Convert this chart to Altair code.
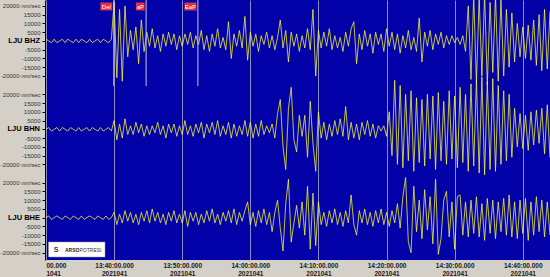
import altair as alt
import pandas as pd

# ---------------- data (amplitudes in thousands of nm/sec, one sample every 0.4 min from 13:30) ----
step_min = 0.4
bhz = [1,0,-1,1,-1,0,1,-1,1,0,-1,1,-1,1,0,-1,1,-1,0,1,-1,1,0,-1,1,
       22,-21,18,-23,20,
       -9,6,-5,8,-13,12,-6,
       5,-3,7,-4,3,-6,4,-3,5,-2,4,-5,3,
       -3,4,-2,5,-4,3,-2,6,
       -5,3,-6,4,-3,7,-4,2,-5,11,-10,4,-3,6,-4,14,-11,
       5,-3,4,-6,3,-2,5,-4,3,-5,2,12,-4,6,-12,5,-3,
       4,-6,3,-4,7,-5,18,-20,
       6,-4,5,-3,7,-5,3,-4,2,-6,5,-3,7,11,-13,4,-5,6,-3,4,-7,5,-2,4,-6,7,-3,5,
       -5,4,-7,3,-4,6,-5,2,-6,13,-12,5,-3,6,-5,4,-2,5,-4,3,-2,3,-1,2,-2,3,
       -6,20,-22,26,-24,25,-20,27,-25,22,-18,26,-23,24,
       -20,18,-15,16,-12,10,-9,8,-10,
       9,-11,12,-14,15,-17,18,-16,17]
bhn = [0,1,-1,0,1,-1,1,0,-1,1,0,-1,1,-1,0,1,-1,1,0,-1,1,-1,0,1,-1,
       5,-6,3,-5,6,
       -3,2,-3,4,-2,3,-4,2,-3,2,-2,4,-3,2,-5,3,-2,3,-4,2,-3,5,-3,2,-4,3,-2,4,-5,3,-2,4,-3,5,-4,2,-3,4,-5,3,-4,2,-3,5,-4,
       4,-5,3,-4,5,-3,2,-2,
       3,-5,9,17,-10,-23,12,24,-6,-13,8,-4,8,-16,16,-8,-24,
       10,-5,4,-6,3,-4,5,-3,6,-4,13,-6,4,-5,3,-6,4,-3,5,-4,3,-5,2,-1,2,
       -4,10,-15,28,-20,25,-22,20,-18,22,-24,18,
       -19,17,-21,20,-17,19,-23,21,-18,16,-20,22,-17,19,
       -22,24,-19,20,-24,26,-21,28,-25,30,-26,27,-23,29,-24,25,-20,22,-18,20,-16,
       12,-10,9,-11,8,-12,10,-9,11,-8,12,-14,14,-16]
bhe = [0,1,-1,0,1,0,-1,1,0,-1,1,0,-1,1,-1,0,1,0,-1,1,0,-1,1,-1,0,
       3,-4,2,-3,4,-2,3,-3,2,-4,3,-2,4,-3,5,-2,3,-3,2,-4,3,-2,4,-3,2,-3,4,-5,3,-2,3,-4,2,-3,4,-2,5,-3,2,-4,3,-2,4,-3,5,-4,3,-2,4,9,
       -4,3,-5,4,-3,5,-4,3,-8,3,10,
       -6,-19,8,22,-14,-3,7,-6,9,-10,18,-18,14,-16,9,
       -4,3,-5,4,-3,5,-4,3,-5,4,-3,13,-4,-10,4,-3,5,-4,3,-5,4,-3,5,-4,3,-5,4,-3,
       8,-6,12,23,-14,-20,18,-8,10,-12,16,-7,12,-15,22,-21,
       -12,10,15,-11,9,-18,12,13,-10,9,-11,
       10,-9,12,-11,8,-13,11,-9,10,-12,9,-8,11,-10,13,-11,9,-12,10,-9,11,-13,9,-10,12,-8,10,-11,9,-10]

channels = ["LJU BHZ", "LJU BHN", "LJU BHE"]
series = [bhz, bhn, bhe]
offsets = [0, -50.5, -101]           # vertical stacking of the three traces

tick_minutes = [0, 10, 20, 30, 40, 50, 60, 70]
tick_time = ["00.000", "13:40:00.000", "13:50:00.000", "14:00:00.000",
             "14:10:00.000", "14:20:00.000", "14:30:00.000", "14:40:00.000"]
tick_date = ["1041", "2021041", "2021041", "2021041",
             "2021041", "2021041", "2021041", "2021041"]

pick_labels = ["Del", "aP", "EaP"]
pick_minutes = [9.95, 14.7, 22.3]

y_levels = [20, 15, 10, 5, 0, -5, -10, -15, -20]

# ---------------- tables ----------------
rows = []
for name, vals, off in zip(channels, series, offsets):
    for i, v in enumerate(vals):
        rows.append({"ch": name, "t": i * step_min, "y": v + off})
wave = pd.DataFrame(rows)
stations = pd.DataFrame({"ch": channels, "y": offsets})
picks = pd.DataFrame({"label": pick_labels, "t": pick_minutes})

X_MAX = 74.0
Y_DOM = [-125.2, 23.4]
PX_PER_MIN = 504 / X_MAX

x_expr = "datum.value == 0 ? " + repr([tick_time[0], tick_date[0]])
for m, a, b in zip(tick_minutes[1:], tick_time[1:], tick_date[1:]):
    x_expr += f" : datum.value == {m} ? {[a, b]!r}"
x_expr += " : ''"

loc = "round(datum.value - (datum.value > -25.5 ? 0 : (datum.value > -76 ? -50.5 : -101)))"
y_expr = (f"{loc} == 0 ? '' : (abs({loc}) == 20 ? ({loc} * 1000) + ' nm/sec' : '' + ({loc} * 1000))")
y_values = [off + k for off in offsets for k in y_levels]

xscale = alt.Scale(domain=[0, X_MAX], nice=False, zero=False)
yscale = alt.Scale(domain=Y_DOM, nice=False, zero=False)

x_axis = alt.Axis(values=tick_minutes, labelExpr=x_expr, title=None, ticks=False,
                  domain=False, grid=True, gridColor="#8c8cc4", gridWidth=1,
                  labelFontSize=6.5, labelFontWeight="bold", labelColor="#1a1a1a",
                  labelLineHeight=8, labelPadding=2, labelFlush=False, labelOverlap=False,
                  labelAlign=alt.condition("datum.value == 0", alt.value("left"), alt.value("center")))
y_axis = alt.Axis(values=y_values, labelExpr=y_expr, title=None, grid=False,
                  tickSize=3, tickColor="#000000", domainColor="#000000",
                  labelOverlap=False, labelFlush=False, labelBound=False,
                  labelFontSize=6, labelColor="#333333", labelPadding=2, offset=1)

base = alt.Chart(wave)
lines = base.mark_line(color="#ffff30", strokeWidth=0.75, clip=True).encode(
    x=alt.X("t:Q", scale=xscale, axis=x_axis),
    y=alt.Y("y:Q", scale=yscale, axis=y_axis),
    detail="ch:N",
)

station_text = alt.Chart(stations).mark_text(
    align="right", baseline="middle", fontSize=7.5, fontWeight="bold", color="#000000"
).encode(y=alt.Y("y:Q", scale=yscale, axis=y_axis), x=alt.value(-6), text="ch:N")

pick_rules = alt.Chart(picks).mark_rule(color="#c4c4e0", strokeWidth=1).encode(
    x=alt.X("t:Q", scale=xscale, axis=x_axis), y=alt.value(0), y2=alt.value(86))

pick_box = alt.Chart(picks).transform_calculate(
    x0=f"datum.t - (length(datum.label) * 3.3 + 2 + 1.5) / {PX_PER_MIN}",
    x1=f"datum.t - 1.5 / {PX_PER_MIN}",
    xm=f"datum.t - (length(datum.label) * 3.3 / 2 + 1 + 1.5) / {PX_PER_MIN}",
)
pick_rect = pick_box.mark_rect(color="#e3303c").encode(
    x=alt.X("x0:Q", scale=xscale, axis=x_axis), x2="x1:Q", y=alt.value(2.5), y2=alt.value(10.5))
pick_txt = pick_box.mark_text(color="#ffffff", fontSize=6, baseline="middle").encode(
    x=alt.X("xm:Q", scale=xscale, axis=x_axis), y=alt.value(6.8), text="label:N")

one = pd.DataFrame({"a": [0]})
logo_box = alt.Chart(one).mark_rect(color="#ffffff", stroke="#9a9a9a", strokeWidth=0.5).encode(
    x=alt.value(2.5), x2=alt.value(59), y=alt.value(242), y2=alt.value(257))
logo_s = alt.Chart(one).mark_text(fontSize=7, fontWeight="bold", color="#333333", baseline="middle").encode(
    x=alt.value(10), y=alt.value(249.5), text=alt.value("S"))
logo_a = alt.Chart(one).mark_text(fontSize=5, fontWeight="bold", color="#222222", align="left", baseline="middle").encode(
    x=alt.value(19), y=alt.value(249.5), text=alt.value("ARSO"))
logo_p = alt.Chart(one).mark_text(fontSize=5, color="#333333", align="left", baseline="middle").encode(
    x=alt.value(33.5), y=alt.value(249.5), text=alt.value("POTRESI"))

chart = alt.layer(
    lines, pick_rules, pick_rect, pick_txt, station_text, logo_box, logo_s, logo_a, logo_p
).properties(
    width=504, height=260,
    autosize=alt.AutoSizeParams(type="none"),
    padding={"left": 46, "top": 0, "right": 0, "bottom": 17},
    background="#d4d0c8",
).configure_view(
    fill="#0202a8", stroke=None
).configure_axis(
    labelFont="Liberation Sans"
).configure_axisY(
    labelOverlap=False
).configure_text(font="Liberation Sans")

chart.save("out.html", embed_options={"renderer": "svg", "actions": False})
